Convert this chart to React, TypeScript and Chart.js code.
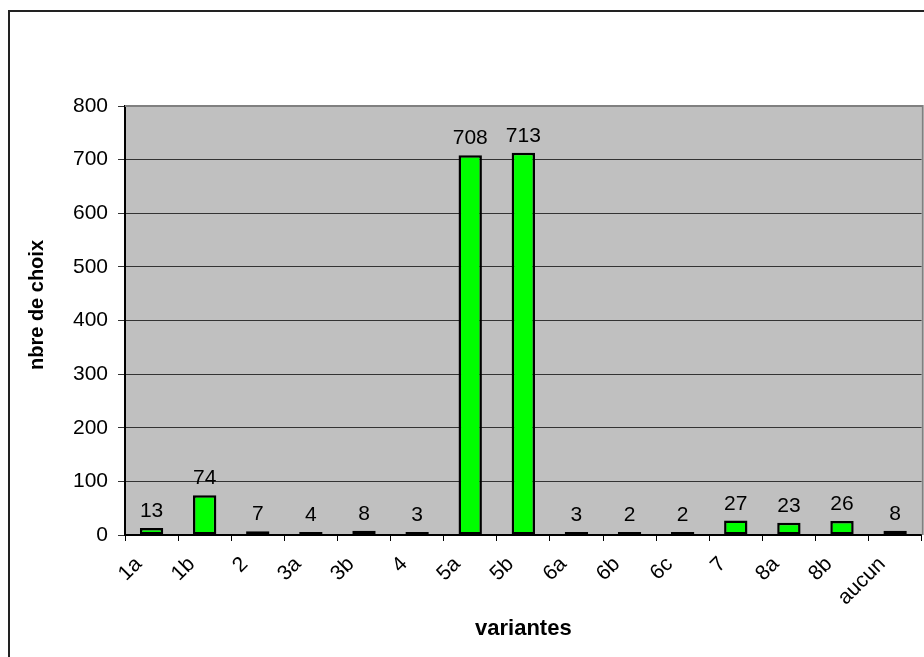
import React, { useEffect, useRef } from "react";
import { Chart, registerables } from "chart.js";

Chart.register(...registerables);

const categories: string[] = ["1a", "1b", "2", "3a", "3b", "4", "5a", "5b", "6a", "6b", "6c", "7", "8a", "8b", "aucun"];
const values: number[] = [13, 74, 7, 4, 8, 3, 708, 713, 3, 2, 2, 27, 23, 26, 8];
const yTicks: number[] = [0, 100, 200, 300, 400, 500, 600, 700, 800];
const xTitle = "variantes";
const yTitle = "nbre de choix";

const FONT = "'Liberation Sans', Arial, Helvetica, sans-serif";

const decorPlugin = {
  id: "decor",
  beforeDraw(chart: any) {
    const { ctx, chartArea, width, height } = chart;
    ctx.save();
    ctx.fillStyle = "#ffffff";
    ctx.fillRect(0, 0, width, height);
    ctx.fillStyle = "#c0c0c0";
    ctx.fillRect(chartArea.left, chartArea.top, chartArea.right - chartArea.left, chartArea.bottom - chartArea.top);
    ctx.restore();
  },
  afterDraw(chart: any) {
    const { ctx, chartArea, width, height } = chart;
    ctx.save();
    // plot area top/right border (gray)
    ctx.strokeStyle = "#808080";
    ctx.lineWidth = 2;
    ctx.beginPath();
    ctx.moveTo(chartArea.left, chartArea.top);
    ctx.lineTo(chartArea.right + 1, chartArea.top);
    ctx.lineTo(chartArea.right + 1, chartArea.bottom);
    ctx.stroke();
    // outer frame
    ctx.strokeStyle = "#222222";
    ctx.lineWidth = 2;
    ctx.beginPath();
    ctx.moveTo(9, height + 2);
    ctx.lineTo(9, 11);
    ctx.lineTo(width + 2, 11);
    ctx.stroke();
    // data labels
    const meta = chart.getDatasetMeta(0);
    ctx.fillStyle = "#000";
    ctx.font = `21px ${FONT}`;
    ctx.textAlign = "center";
    ctx.textBaseline = "alphabetic";
    meta.data.forEach((bar: any, i: number) => {
      ctx.fillText(String(values[i]), bar.x, bar.y - 11);
    });
    // axis titles
    ctx.font = `bold 22px ${FONT}`;
    ctx.textAlign = "center";
    ctx.fillText(xTitle, (chartArea.left + chartArea.right) / 2, 635);
    ctx.save();
    ctx.translate(43, 305);
    ctx.rotate(-Math.PI / 2);
    ctx.font = `bold 20px ${FONT}`;
    ctx.fillText(yTitle, 0, 0);
    ctx.restore();
    ctx.restore();
  },
};

export default function App() {
  const ref = useRef<HTMLCanvasElement>(null);
  useEffect(() => {
    if (!ref.current) return;
    const chart = new Chart(ref.current, {
      type: "bar",
      data: {
        labels: categories,
        datasets: [
          {
            data: values,
            backgroundColor: "#00ff00",
            borderColor: "#000000",
            borderWidth: 2.5,
            borderSkipped: false,
            barPercentage: 0.44,
            categoryPercentage: 1,
            minBarLength: 3,
          },
        ],
      },
      options: {
        animation: false,
        responsive: false,
        devicePixelRatio: 1,
        layout: { padding: { left: 0, top: 106, right: 2, bottom: 0 } },
        plugins: { legend: { display: false }, tooltip: { enabled: false } },
        scales: {
          x: {
            grid: { offset: true, drawOnChartArea: false, drawTicks: true, tickLength: 6, color: "#000" },
            border: { display: true, color: "#000", width: 2 },
            ticks: {
              autoSkip: false,
              minRotation: 45,
              maxRotation: 45,
              padding: 11,
              labelOffset: -13,
              color: "#000",
              font: { family: FONT, size: 21 },
            },
            afterFit(scale: any) {
              scale.height = 122;
            },
          },
          y: {
            min: 0,
            max: 800,
            afterBuildTicks(scale: any) {
              scale.ticks = yTicks.map((v) => ({ value: v }));
            },
            grid: { color: "#333333", lineWidth: 1, tickLength: 7, drawTicks: true },
            border: { display: true, color: "#000", width: 2 },
            ticks: {
              padding: 10,
              color: "#000",
              font: { family: FONT, size: 21 },
            },
            afterFit(scale: any) {
              scale.width = 125;
            },
          },
        },
      },
      plugins: [decorPlugin],
    });
    return () => chart.destroy();
  }, []);
  return (
    <canvas
      ref={ref}
      width={924}
      height={657}
      style={{ position: "absolute", left: 0, top: 0, width: 924, height: 657 }}
    />
  );
}
